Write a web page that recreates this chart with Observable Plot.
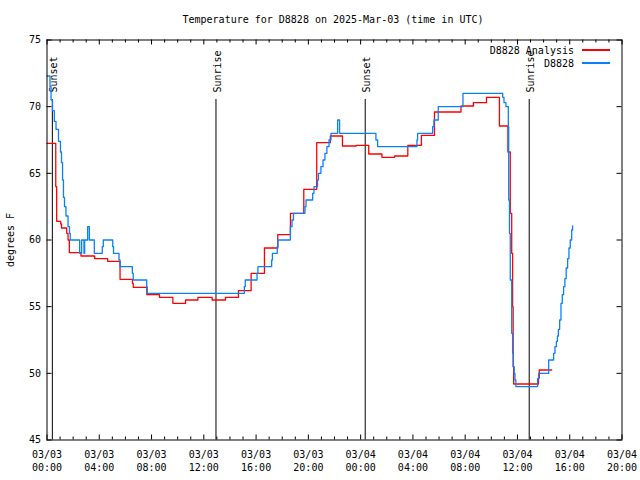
<!DOCTYPE html>
<html>
<head>
<meta charset="utf-8">
<script src="https://cdn.jsdelivr.net/npm/d3@7"></script>
<script src="https://cdn.jsdelivr.net/npm/@observablehq/plot@0.6"></script>
<style>
  body { margin: 0; background: #fff; }
  #wrap { position: relative; width: 640px; height: 480px; font-family: "DejaVu Sans Mono", monospace; font-size: 10px; }
  .lg-text { position: absolute; white-space: pre; line-height: 13px; text-align: right; }
  .lg-line { position: absolute; height: 1.5px; }
</style>
</head>
<body>
<div id="wrap"></div>
<script>
// ---------- data ----------
const titleText = "Temperature for D8828 on 2025-Mar-03 (time in UTC)";
const yLabel = "degrees F";
const startISO = "2025-03-03T00:00:00Z";

// hours since start / temperature (F), step series
const obsHours = [
  0.00, 0.23, 0.31, 0.42, 0.56, 0.69, 0.88, 1.03, 1.11, 1.19,
  1.26, 1.34, 1.45, 1.61, 1.72, 1.78, 2.50, 2.65, 2.83, 2.88,
  3.11, 3.24, 3.62, 4.23, 4.31, 5.03, 5.09, 5.51, 5.59, 6.53,
  6.60, 7.63, 7.67, 15.10, 15.17, 16.07, 16.14, 17.19, 17.25, 17.62,
  17.67, 18.62, 18.75, 18.86, 19.74, 19.82, 20.33, 20.43, 20.70, 20.77,
  20.96, 21.12, 21.27, 21.42, 21.58, 21.73, 22.24, 22.39, 25.17, 25.30,
  28.31, 28.36, 29.51, 29.61, 29.94, 31.83, 34.87, 34.97, 35.12, 35.30,
  35.33, 35.39, 35.45, 35.56, 35.63, 35.69, 35.75, 35.81, 35.88, 37.54,
  37.62, 38.39, 38.77, 38.87, 38.98, 39.06, 39.13, 39.23, 39.33, 39.43,
  39.53, 39.63, 39.73, 39.84, 39.94, 40.04, 40.15, 40.22
];
const obsTemps = [
  72.3, 71.5, 70.5, 69.7, 68.9, 68.3, 67.4, 66.6, 65.8, 64.5,
  63.2, 62.5, 61.8, 61.0, 60.5, 60.0, 59.0, 60.0, 59.0, 60.0,
  61.0, 60.0, 59.0, 59.5, 60.0, 59.5, 59.0, 58.5, 58.0, 57.5,
  57.0, 56.5, 56.0, 56.5, 57.0, 57.5, 58.0, 58.5, 59.0, 59.5,
  60.0, 61.0, 61.5, 62.0, 62.5, 63.0, 63.5, 64.0, 64.5, 65.0,
  65.5, 66.0, 66.5, 67.0, 67.5, 68.0, 69.0, 68.0, 67.5, 67.0,
  67.5, 68.0, 68.5, 69.0, 70.0, 71.0, 70.7, 70.3, 70.0, 68.5,
  63.0, 60.5, 57.0, 53.0, 51.5, 50.5, 50.0, 49.5, 49.0, 49.6,
  50.0, 51.0, 51.5, 52.0, 52.4, 52.8, 53.3, 54.0, 55.25, 55.9,
  56.5, 57.1, 57.9, 58.6, 59.4, 60.0, 60.75, 61.05
];

const anaHours = [
  0.00, 0.67, 0.74, 1.05, 1.11, 1.51, 1.61, 1.71, 2.60, 3.65,
  4.64, 5.59, 6.54, 6.60, 7.64, 8.61, 9.63, 10.60, 11.55, 12.64,
  13.66, 14.65, 15.62, 16.64, 17.66, 18.63, 19.65, 20.64, 21.68, 22.61,
  23.66, 24.62, 25.63, 26.59, 27.61, 28.65, 29.65, 31.68, 32.63, 33.63,
  34.62, 35.27, 35.45, 35.56, 35.63, 35.67, 35.71, 37.61, 37.67, 38.62
];
const anaTemps = [
  67.25, 64.0, 61.4, 61.2, 60.9, 60.5, 60.0, 59.05, 58.8, 58.6,
  58.4, 57.05, 56.75, 56.45, 55.9, 55.7, 55.25, 55.5, 55.7, 55.5,
  55.7, 56.2, 57.5, 59.4, 60.4, 62.0, 63.8, 67.3, 67.8, 67.05,
  67.1, 66.45, 66.2, 66.3, 67.1, 67.85, 69.6, 70.05, 70.3, 70.7,
  68.55, 66.6, 62.0, 59.0, 55.0, 50.5, 49.2, 49.65, 50.25, 50.25
];

const eventHours = [0.41, 12.93, 24.35, 36.90];
const eventNames = ["Sunset", "Sunrise", "Sunset", "Sunrise"];

const xTickHours = [0, 4, 8, 12, 16, 20, 24, 28, 32, 36, 40, 44];
const yTicks = [45, 50, 55, 60, 65, 70, 75];

const seriesNames = ["D8828 Analysis", "D8828"];
const seriesColors = ["#ff0000", "#0a80ff"];

// ---------- build ----------
const t0 = Date.parse(startISO);
const toDate = h => new Date(t0 + h * 3600000);
const obs = obsHours.map((h, i) => ({t: toDate(h), v: obsTemps[i]}));
const ana = anaHours.map((h, i) => ({t: toDate(h), v: anaTemps[i]}));
const events = eventHours.map((h, i) => ({t: toDate(h), name: eventNames[i]}));
const majorDates = xTickHours.map(toDate);
const minorDates = d3.range(xTickHours[0], xTickHours[xTickHours.length - 1] + 1)
  .filter(h => !xTickHours.includes(h)).map(toDate);

const chart = Plot.plot({
  width: 640,
  height: 480,
  marginLeft: 46.5,
  marginRight: 18.5,
  marginTop: 39.5,
  marginBottom: 40.5,
  style: {fontFamily: '"DejaVu Sans Mono", monospace', fontSize: "10px", background: "white", color: "black"},
  x: {type: "utc", domain: [majorDates[0], majorDates[majorDates.length - 1]]},
  y: {domain: [yTicks[0], yTicks[yTicks.length - 1]]},
  marks: [
    Plot.axisX({ticks: majorDates, tickSize: 0, tickPadding: 9, tickFormat: d3.utcFormat("%m/%d\n%H:%M"), lineHeight: 1.3, label: null}),
    Plot.axisY({ticks: yTicks, tickSize: 0, tickPadding: 6, label: null}),
    // ticks (inward, mirrored)
    Plot.ruleX(majorDates, {x: d => d, insetTop: 395, stroke: "black"}),
    Plot.ruleX(majorDates, {x: d => d, insetBottom: 395, stroke: "black"}),
    Plot.ruleX(minorDates, {x: d => d, insetTop: 397, stroke: "black"}),
    Plot.ruleX(minorDates, {x: d => d, insetBottom: 397, stroke: "black"}),
    Plot.ruleY(yTicks, {y: d => d, insetRight: 570, stroke: "black"}),
    Plot.ruleY(yTicks, {y: d => d, insetLeft: 570, stroke: "black"}),
    // sunrise / sunset
    Plot.ruleX(events, {x: "t", insetTop: 59.5, stroke: "black"}),
    Plot.text(events, {x: "t", text: "name", frameAnchor: "top", dy: 52.5, dx: 1.5, rotate: -90, textAnchor: "start", lineAnchor: "middle", fill: "black"}),
    // series
    Plot.line(ana, {x: "t", y: "v", curve: "step-after", stroke: seriesColors[0], strokeWidth: 1.3}),
    Plot.line(obs, {x: "t", y: "v", curve: "step-after", stroke: seriesColors[1], strokeWidth: 1.3}),
    Plot.frame({stroke: "black"}),
    // title and y label
    Plot.text([titleText], {frameAnchor: "top", dy: -20, dx: -1.5, textAnchor: "middle", lineAnchor: "middle", fill: "black"}),
    Plot.text([yLabel], {frameAnchor: "left", dx: -36.5, rotate: -90, textAnchor: "middle", lineAnchor: "middle", fill: "black"})
  ]
});

const wrap = document.getElementById("wrap");
wrap.appendChild(chart);

// legend (top-right, inside the frame)
seriesNames.forEach((name, i) => {
  const rowCenter = 50 + i * 13;
  const txt = document.createElement("div");
  txt.className = "lg-text";
  txt.textContent = name;
  txt.style.right = (640 - 574) + "px";
  txt.style.top = (rowCenter - 6.5) + "px";
  wrap.appendChild(txt);
  const ln = document.createElement("div");
  ln.className = "lg-line";
  ln.style.left = "582px";
  ln.style.width = "28px";
  ln.style.top = (rowCenter - 0.75) + "px";
  ln.style.background = seriesColors[i];
  wrap.appendChild(ln);
});
</script>
</body>
</html>
